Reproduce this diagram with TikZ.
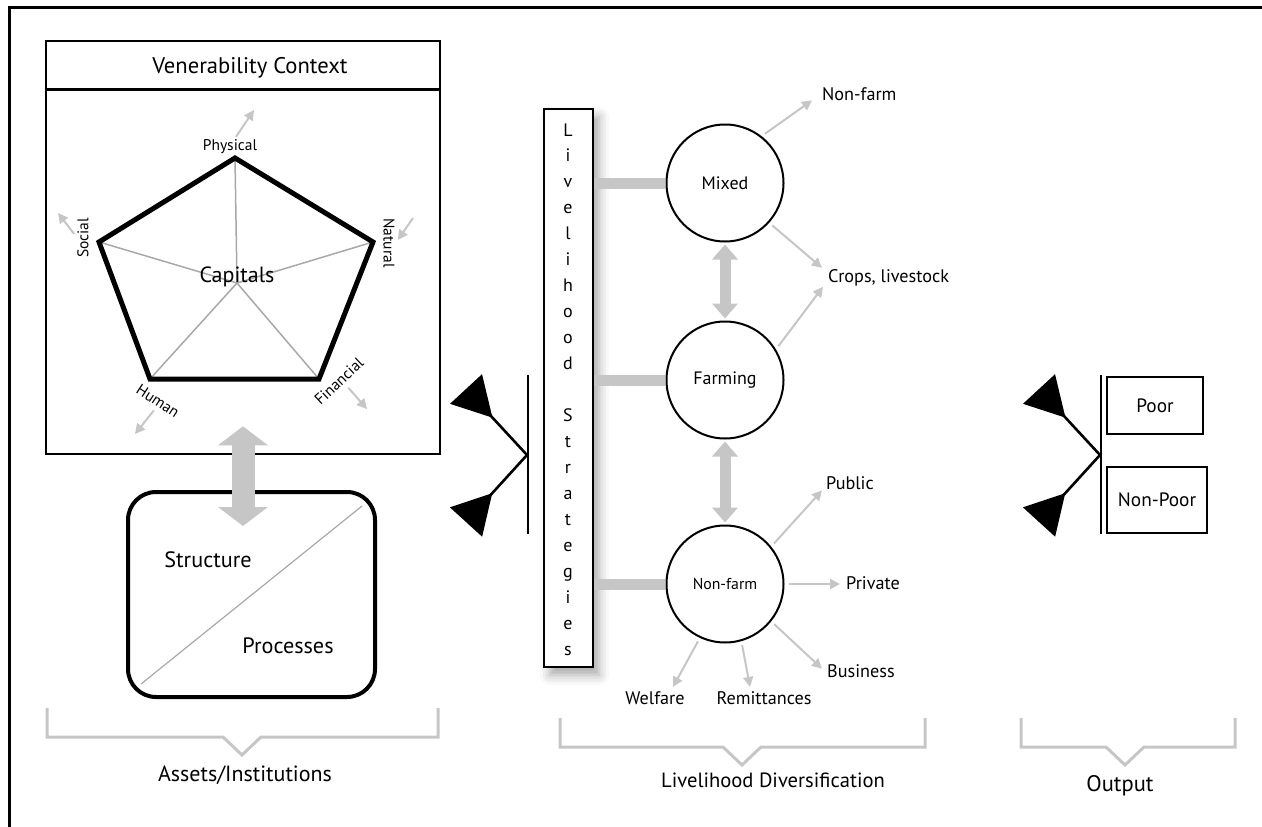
\documentclass[tikz,border=0pt]{standalone}
\usepackage{fontspec}
\setmainfont{PT Sans}
\usepackage{tikz}
\usetikzlibrary{arrows.meta,calc,positioning,shadows.blur}
\definecolor{palegray}{RGB}{198,198,198}
\definecolor{spokegray}{RGB}{168,168,168}

\begin{document}
\begin{tikzpicture}[x=1pt, y=-1pt,
    every node/.style={inner sep=2pt},
    big/.style={font=\fontsize{22}{26}\selectfont},
    huge/.style={font=\fontsize{22.2}{26}\selectfont},
    small/.style={font=\fontsize{15.5}{18}\selectfont},
    outlbl/.style={font=\fontsize{18.2}{21}\selectfont},
    letter/.style={font=\fontsize{18}{20}\selectfont, inner sep=0pt},
    panel/.style={draw, line width=2.6pt},
    pentline/.style={line width=5pt, line join=miter},
    spoke/.style={spokegray, line width=1.5pt},
    thinarrow/.style={palegray, line width=2pt, shorten <=4pt, -{Triangle[length=10pt, width=10pt]}},
    blockarrow/.style={palegray, line width=23pt, {Triangle[length=19pt, width=49pt]}-{Triangle[length=19pt, width=49pt]}},
    linkbar/.style={palegray, line width=11pt},
    linkarrow/.style={palegray, line width=11pt, shorten <=2pt, shorten >=2pt, {Triangle[length=15pt, width=25pt]}-{Triangle[length=15pt, width=25pt]}},
    strat/.style={circle, draw, line width=2pt, minimum size=117pt, inner sep=0pt, font=\fontsize{18}{21}\selectfont},
    flagbar/.style={line width=2.6pt},
    flagline/.style={line width=2.6pt, -{Triangle[reversed, length=39pt, width=43pt]}},
    bracketline/.style={palegray, line width=3pt}]

    \useasboundingbox (0,0) rectangle (1262,827);

    % Frame
    \draw[line width=3pt] (1262,7.5) -- (9.5,7.5) -- (9.5,827);

    % Vulnerability context
    \node[panel, minimum width=394pt, minimum height=413pt] (vc) at (243,247.5) {};
    \draw[panel] ($(vc.north west)+(0,50)$) -- ($(vc.north east)+(0,50)$);
    \node[font=\fontsize{22.6}{26}\selectfont, anchor=base] (vctitle) at (250,73) {Venerability Context};

    % Capitals pentagon
    \coordinate (pc) at (237,283);
    \coordinate (p1) at (235,158);
    \coordinate (p2) at (373,242);
    \coordinate (p3) at (319,379);
    \coordinate (p4) at (150,379);
    \coordinate (p5) at (99,242);
    \foreach \i in {1,...,5} {
        \draw[spoke] (pc) -- (p\i);
    }
    \draw[pentline] (p1) -- (p2) -- (p3) -- (p4) -- (p5) -- cycle;
    \node[big, anchor=base] (capitals) at (237,282) {Capitals};

    \node[small, anchor=base] (phy) at (230,150) {Physical};
    \node[small, rotate=90] (soc) at (83,238) {Social};
    \node[small, rotate=-90] (nat) at (389,243) {Natural};
    \node[small, rotate=43] (fin) at (339,381) {Financial};
    \node[small, rotate=-33] (hum) at (158,401) {Human};

    \coordinate (phyout) at (254,110);
    \coordinate (socout) at (58,213);
    \coordinate (natin) at (413,218);
    \coordinate (finout) at (367,409);
    \coordinate (humout) at (135,434);
    \draw[thinarrow, shorten <=0pt] ($(phy.north)+(6,0)$) -- (phyout);
    \draw[thinarrow, shorten <=0pt] ($(soc.north)+(-1,-4)$) -- (socout);
    \draw[thinarrow, shorten <=0pt] (natin) -- ($(nat.north)+(1,-3)$);
    \draw[thinarrow, shorten <=0pt] ($(fin.south)+(4,1)$) -- (finout);
    \draw[thinarrow, shorten <=0pt] ($(hum.south)+(0,3)$) -- (humout);

    % Structure / processes
    \node[draw, line width=4pt, rounded corners=28pt, minimum width=247pt, minimum height=205pt] (sp) at (251.5,594.5) {};
    \draw[spoke, line width=1.2pt] ($(sp.south west)+(15,-15)$) -- ($(sp.north east)+(-15,16)$);
    \node[huge, anchor=base] (structure) at (208,567) {Structure};
    \node[huge, anchor=base] (processes) at (288,653) {Processes};
    \draw[blockarrow] ($(vc.south)+(0,-29)$) -- ($(vc.south |- sp.north)+(0,36)$);

    % Livelihood strategies
    \node[draw, line width=2pt, fill=white, minimum width=49pt, minimum height=558pt,
          blur shadow={shadow xshift=6pt, shadow yshift=-8pt, shadow blur radius=10pt, shadow opacity=35}] (ls) at (568.5,388) {};
    \foreach \i/\ch in {0/L,1/i,2/v,3/e,4/l,5/i,6/h,7/o,8/o,9/d,11/S,12/t,13/r,14/a,15/t,16/e,17/g,18/i,19/e,20/s} {
        \node[letter, anchor=base] (ls\i) at (568,{136+25.95*\i}) {\ch};
    }

    \node[strat] (mixed) at (725,183) {Mixed};
    \node[strat] (farming) at (725,380) {Farming};
    \node[strat, font=\fontsize{15.8}{18}\selectfont] (nonfarm) at (725,584) {Non-farm};

    \foreach \n in {mixed,farming,nonfarm} {
        \draw[linkbar, shorten >=1pt] (ls.east |- \n) -- (\n);
    }
    \draw[linkarrow] (mixed) -- (farming);
    \draw[linkarrow] (farming) -- (nonfarm);

    % Diversification outlets
    \node[outlbl, anchor=base west] (nfout) at (820,100) {Non-farm};
    \node[outlbl, anchor=base west] (crops) at (826,282) {Crops, livestock};
    \node[outlbl, anchor=base west] (public) at (824,489) {Public};
    \node[outlbl, anchor=base west] (private) at (844,589) {Private};
    \node[outlbl, anchor=base west] (business) at (825,677) {Business};
    \node[outlbl, anchor=base] (welfare) at (655,704) {Welfare};
    \node[outlbl, anchor=base] (remit) at (764,704) {Remittances};

    \draw[thinarrow] (mixed.52) -- ($(nfout.south west)+(-8,-2)$);
    \draw[thinarrow] (mixed.-42) -- ($(crops.north west)+(-4,1)$);
    \draw[thinarrow] (farming.31) -- ($(crops.south west)+(-3,-1)$);
    \draw[thinarrow] (nonfarm.39) -- ($(public.south west)+(-2,-1)$);
    \draw[thinarrow, shorten >=4pt] (nonfarm.east) -- (nonfarm.east -| private.west);
    \draw[thinarrow] (nonfarm.-39) -- ($(business.west)+(-3,-2)$);
    \draw[thinarrow] (nonfarm.-74) -- ($(remit.north)+(-14,-2)$);
    \draw[thinarrow] (nonfarm.-115) -- ($(welfare.north)+(18,-2)$);

    % Flags
    \foreach \jx in {528,1101} {
        \draw[flagbar] (\jx,375) -- (\jx,534);
        \draw[flagline] (\jx-1,455) -- (\jx-62,389);
        \draw[flagline] (\jx-1,455) -- (\jx-62,522);
    }

    % Output
    \node[panel, font=\fontsize{19.3}{22}\selectfont, minimum width=96pt, minimum height=57pt] (poor) at (1155,405.5) {Poor};
    \node[panel, font=\fontsize{19.3}{22}\selectfont, minimum width=100pt, minimum height=66pt] (nonpoor) at (1157,500) {Non-Poor};

    % Brackets
    \foreach \a/\b/\m/\t in {47/438/242/708, 560/925/742/718, 1021/1235/1125/718} {
        \draw[bracketline] (\a,\t) -- (\a,\t+29) -- (\m-19,\t+29) -- (\m,\t+47) -- (\m+19,\t+29) -- (\b,\t+29) -- (\b,\t);
    }
    \node[big, anchor=base] (assets) at (245,781) {Assets/Institutions};
    \node[font=\fontsize{20.6}{24}\selectfont, anchor=base] (divers) at (773,787) {Livelihood Diversification};
    \node[font=\fontsize{22.5}{26}\selectfont, anchor=base] (output) at (1120,791) {Output};
\end{tikzpicture}
\end{document}
